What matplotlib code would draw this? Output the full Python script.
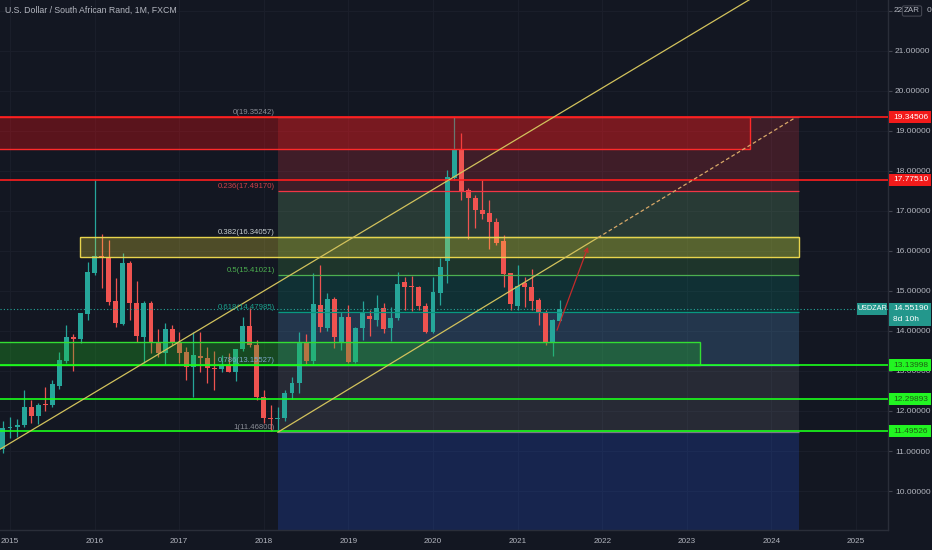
import matplotlib
matplotlib.use('Agg')
import matplotlib.pyplot as plt
import numpy as np
from matplotlib.patches import Rectangle

plt.rcParams['font.family'] = ['Liberation Sans', 'DejaVu Sans']

# ---------------- data (monthly USD/ZAR, Dec 2014 .. Jul 2021) ----------------
first_month = (2014, 12)
opens = [11.05, 11.57, 11.59, 11.65, 12.11, 11.87, 12.17, 12.15, 12.63, 13.25,
         13.86, 13.79, 14.42, 15.46, 15.88, 15.86, 14.76, 14.17, 15.71, 14.71,
         13.86, 14.71, 13.71, 13.46, 14.06, 13.73, 13.48, 13.11, 13.38, 13.33,
         13.07, 13.06, 13.16, 12.98, 13.55, 14.13, 13.65, 12.34, 11.82, 11.80,
         11.82, 12.44, 12.69, 13.71, 13.25, 14.65, 14.08, 14.79, 13.73, 14.36,
         13.23, 14.07, 14.38, 14.27, 14.57, 14.07, 14.33, 15.22, 15.13, 15.10,
         14.63, 13.98, 14.96, 15.75, 17.82, 18.53, 17.52, 17.33, 17.02, 16.94,
         16.73, 16.25, 15.44, 14.63, 15.19, 15.11, 14.77, 14.47, 13.73, 14.26]
highs = [11.75, 11.85, 11.80, 12.52, 12.28, 12.20, 12.60, 12.78, 13.48, 14.15,
         13.92, 14.45, 15.73, 17.78, 16.43, 16.27, 15.32, 15.96, 15.75, 15.24,
         14.75, 14.75, 14.06, 14.20, 14.14, 13.98, 13.60, 13.98, 13.98, 13.60,
         13.50, 13.40, 13.46, 13.55, 14.36, 14.57, 13.77, 12.52, 12.16, 12.10,
         12.52, 12.85, 13.98, 13.92, 15.44, 15.65, 14.95, 14.85, 14.48, 14.65,
         14.10, 14.75, 14.52, 14.90, 14.70, 14.60, 15.48, 15.36, 15.38, 15.13,
         14.69, 15.36, 15.82, 18.02, 19.35, 18.96, 17.58, 17.40, 17.77, 17.27,
         16.82, 16.40, 15.44, 15.66, 15.36, 15.56, 14.82, 14.52, 14.31, 14.77]
lows = [10.95, 11.32, 11.35, 11.60, 11.70, 11.68, 12.00, 12.10, 12.55, 13.20,
        13.00, 13.70, 14.27, 15.40, 15.07, 14.65, 14.11, 14.15, 14.28, 13.73,
        13.19, 13.44, 13.36, 13.16, 13.65, 13.20, 12.77, 12.35, 12.97, 12.69,
        12.52, 12.98, 12.98, 12.75, 13.50, 13.60, 12.27, 11.70, 11.51, 11.47,
        11.75, 12.30, 12.45, 13.17, 13.17, 13.98, 14.00, 13.57, 13.52, 13.20,
        13.20, 13.78, 13.88, 14.12, 13.94, 13.76, 14.27, 14.52, 14.50, 14.52,
        13.94, 13.94, 14.65, 15.20, 17.78, 17.27, 16.30, 16.57, 16.81, 16.06,
        16.15, 15.10, 14.52, 14.52, 14.61, 14.52, 14.14, 13.65, 13.37, 14.24]
closes = [11.57, 11.59, 11.65, 12.11, 11.87, 12.15, 12.15, 12.67, 13.27, 13.86,
          13.79, 14.44, 15.48, 15.88, 15.84, 14.73, 14.19, 15.71, 14.71, 13.87,
          14.71, 13.71, 13.46, 14.06, 13.73, 13.46, 13.11, 13.40, 13.32, 13.07,
          13.05, 13.16, 12.98, 13.55, 14.13, 13.65, 12.34, 11.82, 11.80, 11.82,
          12.44, 12.69, 13.71, 13.25, 14.67, 14.11, 14.79, 13.84, 14.36, 13.23,
          14.08, 14.48, 14.30, 14.57, 14.04, 14.33, 15.18, 15.11, 15.10, 14.63,
          13.98, 14.98, 15.61, 17.84, 18.53, 17.50, 17.33, 17.02, 16.92, 16.73,
          16.21, 15.42, 14.67, 15.13, 15.09, 14.75, 14.47, 13.73, 14.27, 14.5519]

year_ticks = list(range(2015, 2026))
price_ticks = list(range(10, 23))

# drawings
fib_high, fib_low = 19.35242, 11.468
fib_ratios = [0, 0.236, 0.382, 0.5, 0.618, 0.786, 1, 1.618]
fib_names = ["0", "0.236", "0.382", "0.5", "0.618", "0.786", "1", "1.618"]
fib_colors = ['#787b86', '#f23645', '#81c784', '#4caf50', '#089981', '#64b5f6', '#787b86', '#2962ff']
fib_label_colors = ['#8a8d96', '#d0404a', '#c8cfd0', '#4caf50', '#1aa18c', '#7aa8c8', '#8a8d96']
fib_start, fib_end = 2018 + 2/12, 2024.33

red_rays = [19.34506, 17.77510]
green_rays = [13.13998, 12.29893, 11.49526]
red_zone = (2014.5, 2023.747, 18.56, 19.345)
yellow_zone = (2015.827, 2024.326, 15.84, 16.34)
green_zone = (2014.5, 2023.156, 13.14, 13.72)
upper_trend = [(2014.5, 10.56), (2026.0, 25.15)]
lower_trend = [(2018 + 2/12, 11.47), (2024.28, 19.33)]
lower_trend_solid_end = 2021.95
arrow_from = (2021.466, 14.02)
arrow_to = (2021.832, 16.10)
last_price = 14.55190

# ---------------- style ----------------
BG = '#131722'
UP = '#26a69a'
DN = '#ef5350'
TXT = '#b2b5be'
GRID = '#1b1f2b'
AX_FS = 6.0

fig = plt.figure(figsize=(9.32, 5.5), dpi=100, facecolor=BG)
ax = fig.add_axes([0, 20/550, 888/932, 530/550])
ax.set_facecolor(BG)
px_per_year = 84.6
x0 = 2015 - 10/px_per_year
x1 = 2015 + 878/px_per_year
ax.set_xlim(x0, x1)
ax.set_ylim(9.025, 22.275)

for s in ['top', 'left']:
    ax.spines[s].set_visible(False)
for s in ['right', 'bottom']:
    ax.spines[s].set_color('#2a2e39')
    ax.spines[s].set_linewidth(1)

# grid
for y in price_ticks:
    ax.axhline(y, color=GRID, lw=0.7, zorder=0.5)
for x in year_ticks:
    ax.axvline(x, color=GRID, lw=0.7, zorder=0.5)

# ticks
ax.yaxis.tick_right()
ax.set_yticks(price_ticks)
ax.set_yticklabels([f"{v:.5f}" if v != 22 else "" for v in price_ticks])
ax.tick_params(axis='y', colors='#434651', labelcolor=TXT, length=3, width=0.8,
               pad=2, labelsize=AX_FS, direction='out')
ax.set_xticks(year_ticks)
ax.set_xticklabels([str(y) for y in year_ticks])
ax.tick_params(axis='x', length=0, labelcolor=TXT, labelsize=5.9, pad=5.5)

# candles
n = len(opens)
xs = np.array([first_month[0] + (first_month[1] - 1) / 12 + i / 12 for i in range(n)])
o = np.array(opens); h = np.array(highs); l = np.array(lows); c = np.array(closes)
cols = [UP if cc >= oo else DN for oo, cc in zip(o, c)]
ax.vlines(xs, l, h, colors=cols, lw=0.9, zorder=2)
ax.bar(xs, np.maximum(np.abs(c - o), 0.03), bottom=np.minimum(o, c), width=0.058,
       color=cols, linewidth=0, zorder=2.1)

# fib retracement
fib_prices = [fib_high - r * (fib_high - fib_low) for r in fib_ratios]
for i in range(len(fib_ratios) - 1):
    ax.fill_between([fib_start, fib_end], fib_prices[i], fib_prices[i + 1],
                    color=fib_colors[i + 1], alpha=0.2, lw=0, zorder=1.5)
for i in range(len(fib_ratios) - 1):
    ax.hlines(fib_prices[i], fib_start, fib_end, color=fib_colors[i], lw=0.9, zorder=2.5)
    ax.annotate(f"{fib_names[i]}({fib_prices[i]:.5f})", xy=(fib_start, fib_prices[i]),
                xytext=(-3, 1), textcoords='offset pixels', ha='right', va='bottom',
                fontsize=5.6, color=fib_label_colors[i], zorder=5)

# zones
for (xa, xb, ya, yb), fc, ec, al in [
        (red_zone, '#ff1010', '#ff2a2a', 0.30),
        (yellow_zone, '#ffeb3b', '#e8d44d', 0.25),
        (green_zone, '#22cc22', '#33dd33', 0.28)]:
    ax.add_patch(Rectangle((xa, ya), xb - xa, yb - ya, facecolor=fc, alpha=al,
                           edgecolor='none', zorder=3))
    ax.add_patch(Rectangle((xa, ya), xb - xa, yb - ya, facecolor='none',
                           edgecolor=ec, lw=1.0, zorder=3.1))

# horizontal rays
for v in red_rays:
    ax.axhline(v, color='#ff1e1e', lw=1.2, zorder=3.5)
for v in green_rays:
    ax.axhline(v, color='#1aff1a', lw=1.2, zorder=3.5)

# current price dotted line
ax.axhline(last_price, color=UP, lw=0.8, ls=(0, (1, 2)), zorder=3.4)

# trend lines
(ux0, uy0), (ux1, uy1) = upper_trend
ax.plot([ux0, ux1], [uy0, uy1], color='#d2c25c', lw=0.9, zorder=4)
(lx0, ly0), (lx1, ly1) = lower_trend
slope = (ly1 - ly0) / (lx1 - lx0)
ymid = ly0 + slope * (lower_trend_solid_end - lx0)
ax.plot([lx0, lower_trend_solid_end], [ly0, ymid], color='#d2c25c', lw=0.9, zorder=4)
ax.plot([lower_trend_solid_end, lx1], [ymid, ly1], color='#d8a868', lw=0.9,
        ls=(0, (3, 2)), zorder=4)

# arrow
ax.annotate('', xy=arrow_to, xytext=arrow_from,
            arrowprops=dict(arrowstyle='->', color='#c42b2b', lw=0.9,
                            shrinkA=0, shrinkB=0, mutation_scale=7), zorder=4.5)

# title
fig.text(5/932, 1 - 10/550, "U.S. Dollar / South African Rand, 1M, FXCM", ha='left',
         va='center', fontsize=6.3, color=TXT)

# price tags on the right axis
ytr = ax.get_yaxis_transform()
upp = (22.275 - 9.025) / 530.0  # price units per pixel

def price_tag(v, lines, bg, fg, x_left_px=889, x_right_px=931, h_px=12):
    xa = x_left_px / 888.0
    xb = x_right_px / 888.0
    hh = h_px * upp
    ytop = v + 6 * upp
    ax.add_patch(Rectangle((xa, ytop - hh), xb - xa, hh, transform=ytr, facecolor=bg,
                           edgecolor='none', clip_on=False, zorder=10))
    for k, t in enumerate(lines):
        ax.text((x_left_px + 4) / 888.0, v - k * 11 * upp, t, transform=ytr, ha='left',
                va='center', fontsize=AX_FS, color=fg, clip_on=False, zorder=11)

for v in red_rays:
    price_tag(v, [f"{v:.5f}"], '#f21b1b', '#ffffff')
for v in green_rays:
    price_tag(v, [f"{v:.5f}"], '#22f522', '#1f5c14')
price_tag(last_price, [f"{last_price:.5f}", "8d 10h"], '#23978c', '#ffffff', h_px=23)
# symbol box left of axis
ax.add_patch(Rectangle((857 / 888.0, last_price - 6 * upp), 30 / 888.0, 12 * upp,
                       transform=ytr, facecolor='#23978c', edgecolor='none',
                       clip_on=False, zorder=10))
ax.text(872 / 888.0, last_price, "USDZAR", transform=ytr, ha='center', va='center',
        fontsize=5.2, color='#ffffff', clip_on=False, zorder=11)

# top of the scale: "22" with the currency box over the rest of the label
ax.text(894 / 888.0, 22.0, "22", transform=ytr, ha='left', va='center', fontsize=AX_FS,
        color=TXT, clip_on=False, zorder=11)
ax.text(912 / 888.0, 22.0, "ZAR", transform=ytr, ha='center', va='center', fontsize=5.8,
        color=TXT, clip_on=False, zorder=11,
        bbox=dict(boxstyle='round,pad=0.2', facecolor=BG, edgecolor='#434651', lw=0.8))
ax.text(931 / 888.0, 22.0, "0", transform=ytr, ha='right', va='center', fontsize=AX_FS,
        color=TXT, clip_on=False, zorder=11)

fig.savefig('out.png', dpi=100, facecolor=BG)
